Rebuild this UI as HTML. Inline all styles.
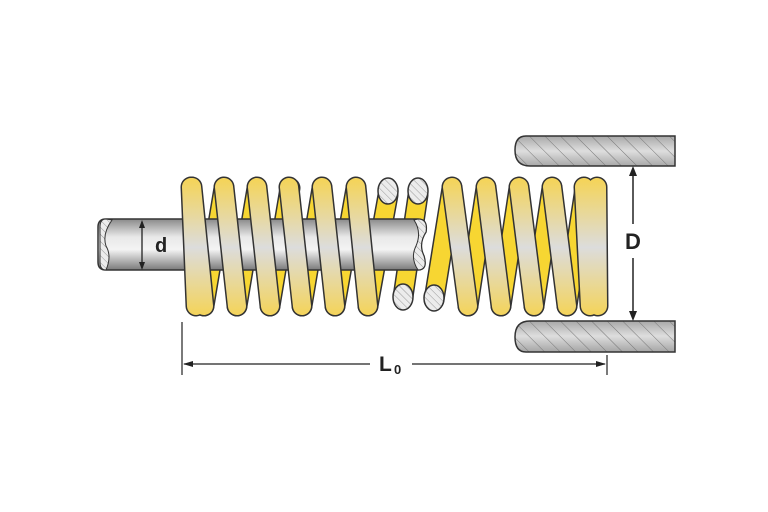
<!DOCTYPE html>
<html><head><meta charset="utf-8"><style>html,body{margin:0;padding:0;background:#fff}svg{display:block}</style></head><body>
<svg width="768" height="512" viewBox="0 0 768 512" xmlns="http://www.w3.org/2000/svg">
<defs>
<linearGradient id="tg" gradientUnits="userSpaceOnUse" x1="0" y1="180" x2="0" y2="315">
<stop offset="0" stop-color="#f4d45a"/><stop offset="0.5" stop-color="#dcdcdc"/><stop offset="1" stop-color="#f4d45a"/></linearGradient>
<linearGradient id="rg" x1="0" y1="0" x2="0" y2="1">
<stop offset="0" stop-color="#8a8a8a"/><stop offset="0.35" stop-color="#e8e8e8"/><stop offset="0.6" stop-color="#f4f4f4"/><stop offset="1" stop-color="#7a7a7a"/></linearGradient>
<linearGradient id="hg" gradientUnits="userSpaceOnUse" x1="0" y1="0" x2="0" y2="30">
<stop offset="0" stop-color="#a8a8a8"/><stop offset="0.5" stop-color="#dedede"/><stop offset="1" stop-color="#a8a8a8"/></linearGradient>
<pattern id="hat" patternUnits="userSpaceOnUse" width="5" height="5" patternTransform="rotate(-45)">
<rect width="5" height="5" fill="#ececec"/><line x1="0" y1="0" x2="0" y2="5" stroke="#999" stroke-width="1"/></pattern>
<pattern id="hatT" patternUnits="userSpaceOnUse" width="11" height="11" patternTransform="rotate(-45)">
<rect x="-20" y="-20" width="60" height="60" fill="none"/><line x1="0" y1="-5" x2="0" y2="16" stroke="#777" stroke-width="1"/></pattern>
</defs>
<g stroke-linecap="round">
<g stroke="#333" stroke-width="21">
<line x1="204" y1="306" x2="224" y2="188"/><line x1="237" y1="306" x2="257" y2="188"/><line x1="270" y1="306" x2="290" y2="188"/>
<line x1="302" y1="306" x2="322" y2="188"/><line x1="335" y1="306" x2="356" y2="188"/><line x1="368" y1="306" x2="388" y2="195"/>
<line x1="403" y1="297" x2="418" y2="195"/><line x1="434" y1="300" x2="452" y2="188"/>
<line x1="468" y1="306" x2="486" y2="188"/><line x1="501" y1="306" x2="519" y2="188"/><line x1="534" y1="306" x2="552" y2="188"/><line x1="567" y1="306" x2="585" y2="188"/>
</g>
<g stroke="#f7d632" stroke-width="18">
<line x1="204" y1="306" x2="224" y2="188"/><line x1="237" y1="306" x2="257" y2="188"/><line x1="270" y1="306" x2="290" y2="188"/>
<line x1="302" y1="306" x2="322" y2="188"/><line x1="335" y1="306" x2="356" y2="188"/><line x1="368" y1="306" x2="388" y2="195"/>
<line x1="403" y1="297" x2="418" y2="195"/><line x1="434" y1="300" x2="452" y2="188"/>
<line x1="468" y1="306" x2="486" y2="188"/><line x1="501" y1="306" x2="519" y2="188"/><line x1="534" y1="306" x2="552" y2="188"/><line x1="567" y1="306" x2="585" y2="188"/>
</g>
<g stroke="#333" stroke-width="1.5" fill="url(#hat)">
<ellipse cx="388" cy="191" rx="10" ry="13"/><ellipse cx="418" cy="191" rx="10" ry="13"/>
<ellipse cx="403" cy="297" rx="10" ry="13"/><ellipse cx="434" cy="298" rx="10" ry="13"/>
</g>
</g>
<path d="M106 219 H418 Q428 219 426 232 Q418 244 424 256 Q428 270 418 270 H106 Q98 270 98 262 V227 Q98 219 106 219 Z" fill="url(#rg)" stroke="#333" stroke-width="1.5"/>
<path d="M106 219 Q100 219 100 227 V262 Q100 270 106 270 Q112 256 106 246 Q102 234 112 220 Z" fill="url(#hat)" stroke="#333" stroke-width="1"/>
<path d="M418 219 Q428 219 426 232 Q418 244 424 256 Q428 270 418 270 Q410 258 416 246 Q422 232 414 220 Z" fill="url(#hat)" stroke="#333" stroke-width="1"/>
<g stroke-linecap="round">
<g stroke="#333" stroke-width="21">
<line x1="191" y1="187" x2="196" y2="306"/><line x1="192" y1="187" x2="204" y2="306"/>
<line x1="224" y1="187" x2="237" y2="306"/><line x1="257" y1="187" x2="270" y2="306"/><line x1="289" y1="187" x2="302" y2="306"/>
<line x1="322" y1="187" x2="335" y2="306"/><line x1="356" y1="187" x2="368" y2="306"/>
<line x1="452" y1="187" x2="468" y2="306"/><line x1="486" y1="187" x2="501" y2="306"/><line x1="519" y1="187" x2="534" y2="306"/>
<line x1="552" y1="187" x2="567" y2="306"/><line x1="584" y1="187" x2="590" y2="306"/><line x1="597" y1="187" x2="598" y2="306"/>
</g>
<g stroke="url(#tg)" stroke-width="18">
<line x1="191" y1="187" x2="196" y2="306"/><line x1="192" y1="187" x2="204" y2="306"/>
<line x1="224" y1="187" x2="237" y2="306"/><line x1="257" y1="187" x2="270" y2="306"/><line x1="289" y1="187" x2="302" y2="306"/>
<line x1="322" y1="187" x2="335" y2="306"/><line x1="356" y1="187" x2="368" y2="306"/>
<line x1="597" y1="187" x2="598" y2="306"/><line x1="584" y1="187" x2="590" y2="306"/>
<line x1="552" y1="187" x2="567" y2="306"/><line x1="519" y1="187" x2="534" y2="306"/><line x1="486" y1="187" x2="501" y2="306"/><line x1="452" y1="187" x2="468" y2="306"/>
</g>
</g>
<g transform="translate(0,136)">
<path d="M675 0 H526 Q515 0 515 14 Q515 30 530 30 H675 Z" fill="url(#hg)"/>
<path d="M675 0 H526 Q515 0 515 14 Q515 30 530 30 H675 Z" fill="url(#hatT)" stroke="#333" stroke-width="1.5"/>
</g>
<g transform="translate(0,321)">
<path d="M675 0 H530 Q515 0 515 16 Q515 31 526 31 H675 Z" fill="url(#hg)"/>
<path d="M675 0 H530 Q515 0 515 16 Q515 31 526 31 H675 Z" fill="url(#hatT)" stroke="#333" stroke-width="1.5"/>
</g>
<line x1="633" y1="170" x2="633" y2="224" stroke="#222" stroke-width="1.5"/>
<line x1="633" y1="258" x2="633" y2="317" stroke="#222" stroke-width="1.5"/>
<polygon points="633,166 629,176 637,176" fill="#222"/><polygon points="633,321 629,311 637,311" fill="#222"/>
<text x="633" y="249" font-family="Liberation Sans, sans-serif" font-weight="bold" font-size="22" text-anchor="middle" fill="#222">D</text>
<line x1="142" y1="222" x2="142" y2="268" stroke="#222" stroke-width="1.3"/>
<polygon points="142,220 139,228 145,228" fill="#222"/><polygon points="142,270 139,262 145,262" fill="#222"/>
<text x="155" y="252" font-family="Liberation Sans, sans-serif" font-weight="bold" font-size="20" fill="#222">d</text>
<line x1="182" y1="322" x2="182" y2="375" stroke="#222" stroke-width="1.2"/>
<line x1="607" y1="355" x2="607" y2="375" stroke="#222" stroke-width="1.2"/>
<line x1="184" y1="364" x2="370" y2="364" stroke="#222" stroke-width="1.2"/>
<line x1="412" y1="364" x2="605" y2="364" stroke="#222" stroke-width="1.2"/>
<polygon points="183,364 193,361 193,367" fill="#222"/><polygon points="606,364 596,361 596,367" fill="#222"/>
<text x="379" y="371" font-family="Liberation Sans, sans-serif" font-weight="bold" font-size="21" fill="#222">L</text>
<text x="394" y="374" font-family="Liberation Sans, sans-serif" font-weight="bold" font-size="13" fill="#222">0</text>
</svg>
</body></html>
